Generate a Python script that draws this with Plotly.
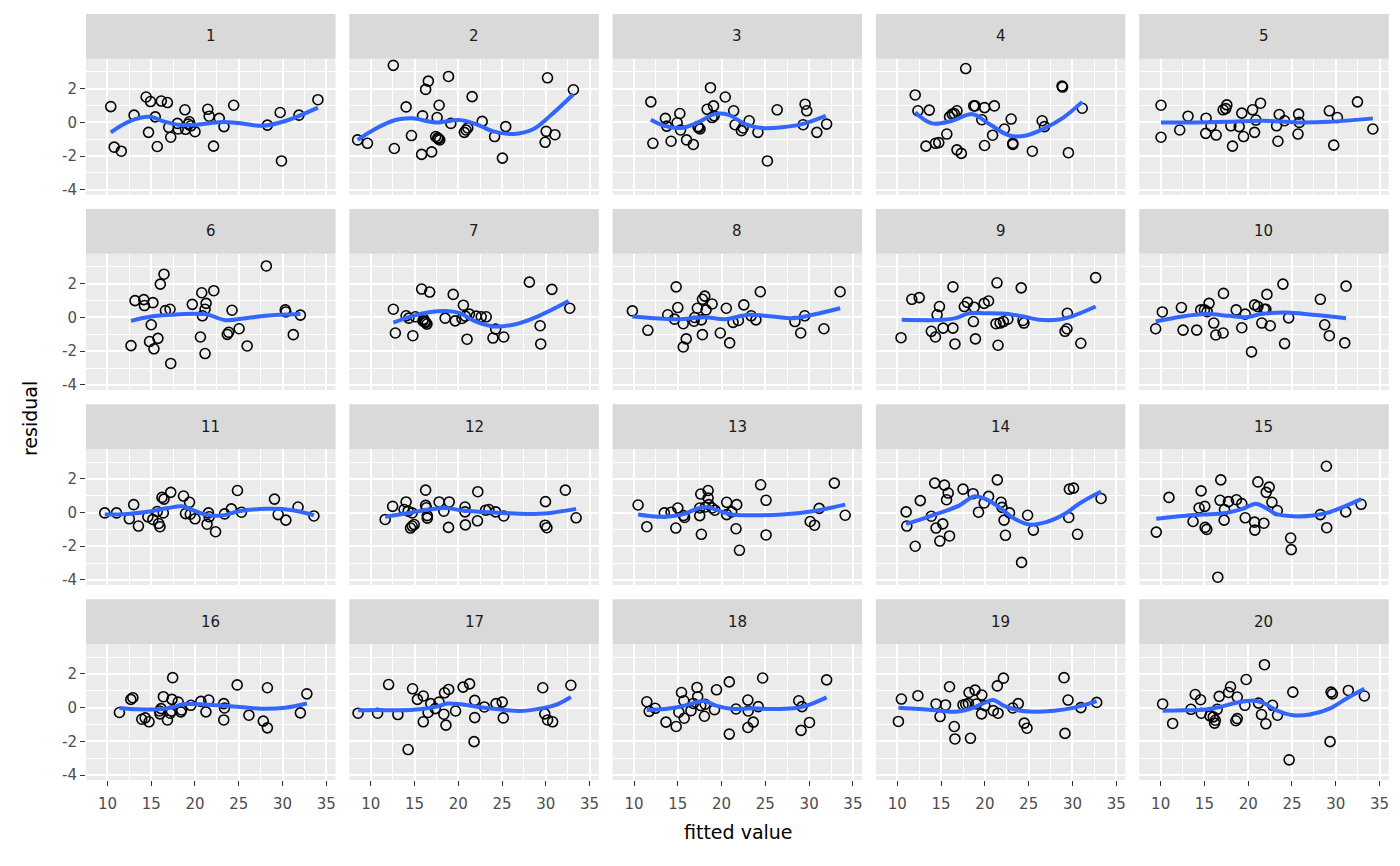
import plotly.graph_objects as go

# residuals against fitted values, 20 panels
fit1 = [10.38, 10.77, 11.58, 13.04, 14.42, 14.92, 14.69, 15.46, 15.69, 16.15, 16.85, 17.0, 17.23, 18.0, 18.08, 18.85, 18.92, 19.35, 19.54, 20.0, 21.46, 21.62, 22.12, 22.77, 23.31, 24.42, 28.27, 29.73, 29.88, 31.88, 34.04, 19.23]
res1 = [0.94, -1.47, -1.71, 0.43, 1.51, 1.24, -0.59, 0.33, -1.43, 1.27, 1.18, -0.29, -0.88, -0.06, -0.39, 0.75, -0.41, 0.04, -0.2, -0.55, 0.78, 0.37, -1.41, 0.24, -0.25, 1.02, -0.16, 0.59, -2.29, 0.43, 1.35, -0.1]
sx1 = [10.38, 12.7, 14.8, 16.5, 18.1, 20.0, 23.1, 25.0, 27.7, 30.4, 34.04]
sy1 = [-0.59, 0.1, 0.33, 0.05, -0.14, -0.14, 0.02, -0.04, -0.2, 0.1, 0.88]

fit2 = [8.5, 9.62, 12.58, 12.69, 14.04, 14.65, 15.81, 15.92, 16.27, 16.58, 16.96, 17.42, 17.58, 17.73, 17.81, 17.88, 18.88, 19.15, 20.69, 20.88, 21.08, 21.58, 22.73, 24.15, 25.04, 25.42, 29.92, 30.04, 30.19, 31.04, 33.15, 17.65]
res2 = [-1.04, -1.24, 3.39, -1.55, 0.92, -0.78, -1.9, 0.39, 1.96, 2.45, -1.75, -0.84, 0.29, -0.98, 1.02, -1.04, 2.73, -0.06, -0.59, -0.45, -0.33, 1.53, 0.06, -0.84, -2.12, -0.25, -1.18, -0.53, 2.65, -0.73, 1.94, -0.92]
sx2 = [8.5, 10.5, 12.8, 14.7, 17.4, 20.1, 22.0, 24.0, 26.3, 28.6, 30.5, 33.15]
sy2 = [-1.04, -0.39, 0.14, 0.24, 0.0, 0.14, -0.1, -0.53, -0.69, -0.39, 0.39, 1.67]

fit3 = [11.92, 12.15, 13.58, 13.73, 14.23, 14.92, 15.23, 15.31, 16.0, 16.77, 17.31, 17.54, 18.35, 18.73, 19.08, 18.92, 19.15, 20.42, 21.38, 21.54, 22.27, 22.46, 23.15, 24.15, 25.23, 26.35, 29.31, 29.54, 29.73, 30.88, 32.0, 17.38]
res3 = [1.22, -1.24, 0.24, -0.22, -1.12, -0.02, 0.53, -0.45, -1.04, -1.31, -0.25, -0.39, 0.78, 2.06, 0.98, 0.29, 0.39, 1.51, 0.69, -0.14, -0.49, -0.33, 0.1, -0.59, -2.29, 0.75, -0.14, 1.08, 0.69, -0.59, -0.1, -0.33]
sx3 = [11.92, 13.46, 15.38, 17.3, 19.2, 20.8, 22.7, 24.6, 26.9, 29.2, 31.9]
sy3 = [0.16, -0.2, -0.33, 0.0, 0.49, 0.45, -0.1, -0.33, -0.29, -0.1, 0.39]

fit4 = [12.04, 12.35, 13.65, 13.27, 14.35, 14.73, 15.65, 15.96, 16.27, 16.5, 16.81, 16.81, 17.31, 17.81, 18.73, 18.88, 19.65, 19.96, 19.96, 20.88, 21.08, 22.23, 23.0, 23.19, 23.19, 25.42, 26.54, 26.81, 28.81, 28.88, 29.54, 31.12]
res4 = [1.63, 0.69, 0.73, -1.41, -1.24, -1.2, -0.69, 0.33, 0.49, 0.53, 0.69, -1.63, -1.84, 3.2, 0.98, 0.98, 0.16, 0.88, -1.37, -0.76, 0.98, -0.39, 0.2, -1.24, -1.31, -1.71, 0.1, -0.25, 2.16, 2.1, -1.8, 0.84]
sx4 = [12.04, 13.96, 16.27, 18.6, 20.5, 22.8, 24.7, 26.65, 28.96, 31.12]
sy4 = [0.59, -0.06, 0.1, 0.49, -0.1, -0.78, -0.78, -0.39, 0.29, 1.22]

fit5 = [10.04, 10.04, 12.18, 13.13, 15.19, 15.15, 15.76, 16.34, 17.14, 17.44, 17.56, 18.02, 18.21, 18.97, 19.27, 19.47, 20.5, 20.88, 20.73, 21.41, 23.24, 23.4, 23.55, 24.16, 25.69, 25.76, 25.84, 29.27, 29.77, 30.19, 32.48, 34.24]
res5 = [1.02, -0.88, -0.45, 0.37, 0.25, -0.65, -0.2, -0.75, 0.75, 0.82, 1.04, -0.2, -1.41, -0.25, 0.55, -0.84, 0.75, 0.14, -0.59, 1.14, -0.2, -1.12, 0.47, 0.1, -0.69, 0.49, 0.0, 0.69, -1.35, 0.29, 1.22, -0.39]
sx5 = [10.04, 14.0, 17.8, 21.6, 25.5, 29.3, 34.24]
sy5 = [0.0, 0.0, 0.04, 0.1, 0.0, 0.04, 0.24]

fit6 = [12.69, 13.15, 14.15, 14.23, 15.0, 15.19, 14.81, 15.31, 15.77, 16.04, 16.46, 16.62, 17.15, 17.23, 19.69, 20.77, 20.85, 21.15, 21.27, 20.62, 21.15, 22.15, 23.69, 23.85, 24.23, 25.04, 25.96, 28.15, 30.31, 30.38, 31.23, 32.04]
res6 = [-1.67, 1.0, 1.06, 0.71, -0.43, 0.88, -1.43, -1.86, -1.24, 1.98, 2.57, 0.41, 0.49, -2.73, 0.78, 1.47, 0.1, 0.49, 0.84, -1.16, -2.14, 1.59, -1.0, -0.88, 0.43, -0.67, -1.69, 3.06, 0.45, 0.33, -1.02, 0.14]
sx6 = [12.69, 15.0, 17.3, 20.0, 21.5, 23.5, 25.8, 28.1, 32.04]
sy6 = [-0.2, 0.06, 0.16, 0.22, 0.16, -0.16, -0.04, 0.1, 0.2]

fit7 = [12.58, 12.81, 14.04, 14.35, 14.81, 15.81, 16.73, 15.96, 16.27, 16.42, 16.19, 18.5, 19.42, 19.65, 20.42, 20.58, 21.0, 21.27, 22.04, 22.62, 23.19, 23.96, 24.27, 25.19, 28.12, 29.35, 29.42, 30.69, 32.73, 15.1, 16.04, 20.8]
res7 = [0.49, -0.92, 0.1, -0.04, -1.08, 1.69, 1.51, -0.2, -0.31, -0.39, -0.25, -0.04, 1.37, -0.2, -0.06, 0.73, -1.29, 0.2, 0.08, 0.04, 0.04, -1.22, -0.69, -1.16, 2.1, -0.49, -1.57, 1.67, 0.55, 0.04, -0.1, 0.08]
sx7 = [12.58, 14.73, 16.65, 18.58, 20.1, 22.04, 24.0, 26.27, 28.96, 32.6]
sy7 = [-0.31, 0.08, 0.31, 0.39, 0.27, -0.25, -0.53, -0.43, 0.04, 0.98]

fit8 = [9.81, 11.58, 13.85, 14.62, 14.81, 15.0, 15.62, 15.96, 15.62, 16.85, 17.23, 17.69, 17.81, 18.08, 18.23, 17.81, 18.92, 19.85, 20.54, 20.92, 21.31, 21.92, 22.54, 23.38, 23.92, 24.42, 28.38, 29.04, 29.5, 31.69, 33.54, 16.92]
res8 = [0.39, -0.76, 0.16, -0.1, 1.82, 0.59, -0.37, -1.27, -1.75, -0.22, 0.55, -0.14, 1.08, 1.27, 0.45, -1.02, 0.8, -0.92, 0.55, -1.51, -0.29, -0.18, 0.75, 0.1, -0.14, 1.53, -0.24, -0.92, 0.1, -0.67, 1.53, 0.0]
sx8 = [9.81, 12.3, 15.0, 18.1, 20.4, 23.1, 25.8, 28.1, 30.4, 33.54]
sy8 = [0.06, -0.04, -0.1, 0.02, -0.1, 0.16, 0.06, -0.04, 0.16, 0.55]

fit9 = [10.42, 11.65, 12.5, 13.88, 14.35, 14.54, 14.81, 15.23, 16.35, 16.35, 16.58, 17.65, 18.0, 18.77, 18.69, 18.92, 19.92, 20.42, 21.38, 21.27, 21.73, 22.12, 21.5, 22.62, 24.15, 24.35, 24.46, 29.42, 29.15, 29.38, 30.96, 32.65]
res9 = [-1.2, 1.08, 1.18, -0.82, -1.16, 0.16, 0.65, -0.63, 1.82, -0.63, -1.57, 0.65, 0.9, 0.61, -0.24, -1.27, 0.84, 0.98, 2.06, -0.37, -0.33, -0.24, -1.65, -0.1, 1.76, -0.18, -0.33, 0.25, -0.82, -0.67, -1.53, 2.37]
sx9 = [10.5, 15.1, 16.65, 18.2, 20.1, 22.4, 24.35, 26.3, 28.2, 30.1, 32.65]
sy9 = [-0.14, -0.14, -0.04, 0.25, 0.25, 0.22, 0.06, -0.14, -0.14, 0.1, 0.65]

fit10 = [9.43, 10.19, 12.37, 12.56, 14.12, 14.58, 15.0, 15.31, 15.53, 16.07, 16.3, 17.14, 17.18, 18.63, 19.27, 19.66, 20.38, 20.73, 21.11, 21.56, 22.02, 22.14, 22.52, 23.97, 24.16, 24.62, 28.24, 28.74, 29.27, 31.03, 31.18, 21.83]
res10 = [-0.67, 0.33, 0.59, -0.75, -0.75, 0.45, 0.45, 0.35, 0.84, -0.33, -1.04, -0.92, 1.43, 0.45, -0.61, 0.2, -2.04, 0.75, 0.65, -0.33, 0.49, 1.37, -0.49, 1.98, -1.55, -0.02, 1.08, -0.43, -1.08, -1.51, 1.86, 0.49]
sx10 = [9.43, 12.48, 15.15, 17.82, 19.73, 21.64, 24.31, 27.37, 31.18]
sy10 = [-0.24, 0.06, 0.2, 0.1, 0.02, 0.22, 0.29, 0.16, -0.04]

fit11 = [9.69, 11.04, 12.5, 13.0, 13.54, 14.62, 15.19, 15.69, 15.85, 16.0, 16.23, 16.46, 16.38, 17.23, 18.69, 19.38, 18.92, 19.46, 20.0, 21.38, 21.54, 21.62, 22.35, 23.38, 24.15, 24.85, 25.31, 29.08, 29.5, 30.38, 31.77, 33.58]
res11 = [-0.02, -0.02, -0.37, 0.47, -0.8, -0.25, -0.41, 0.06, -0.65, -0.84, 0.9, 0.8, -0.02, 1.2, 0.98, 0.61, -0.06, -0.1, -0.37, -0.69, -0.02, -0.25, -1.14, -0.08, 0.22, 1.31, 0.02, 0.8, -0.12, -0.45, 0.33, -0.2]
sx11 = [9.69, 12.3, 15.0, 16.9, 18.5, 19.6, 21.15, 23.1, 25.0, 28.1, 31.15, 33.58]
sy11 = [-0.12, -0.08, 0.08, 0.27, 0.37, 0.18, -0.12, -0.18, 0.08, 0.22, 0.14, -0.16]

fit12 = [11.65, 12.5, 14.04, 13.81, 14.27, 14.73, 14.54, 14.73, 14.96, 16.27, 16.27, 16.35, 16.46, 16.46, 17.81, 18.35, 18.88, 18.96, 20.77, 20.77, 20.81, 22.23, 22.19, 23.12, 23.5, 24.27, 25.19, 29.96, 29.92, 30.12, 32.23, 33.46]
res12 = [-0.41, 0.37, 0.63, 0.18, 0.08, -0.02, -0.92, -0.8, -0.71, 1.33, 0.43, 0.29, -0.18, -0.33, 0.63, 0.08, -0.88, 0.63, 0.33, 0.04, -0.73, 1.24, -0.49, 0.14, 0.18, 0.04, -0.2, 0.65, -0.75, -0.9, 1.33, -0.31]
sx12 = [11.65, 14.35, 16.65, 18.6, 20.5, 22.8, 25.1, 27.8, 30.5, 33.46]
sy12 = [-0.25, -0.02, 0.18, 0.27, 0.12, 0.04, -0.02, -0.08, -0.02, 0.22]

fit13 = [10.46, 11.46, 13.46, 14.23, 15.0, 14.77, 15.77, 15.65, 17.5, 17.5, 17.62, 17.69, 18.46, 18.46, 18.54, 18.92, 19.23, 20.58, 20.58, 21.15, 21.73, 21.65, 22.04, 24.46, 25.08, 25.08, 30.12, 30.62, 31.15, 32.88, 34.12, 18.15]
res13 = [0.45, -0.84, -0.02, 0.02, 0.27, -0.92, -0.29, -0.18, 0.27, -0.18, 1.1, -1.29, 1.31, 0.86, 0.47, 0.27, 0.14, 0.61, -0.12, 0.04, 0.47, -0.96, -2.24, 1.65, 0.73, -1.33, -0.53, -0.75, 0.25, 1.75, -0.16, 0.33]
sx13 = [10.46, 12.7, 14.23, 15.77, 17.3, 18.46, 19.6, 21.15, 23.85, 26.9, 30.4, 34.12]
sy13 = [-0.12, -0.25, -0.22, -0.08, 0.25, 0.31, 0.12, -0.12, -0.16, -0.12, 0.08, 0.47]

fit14 = [11.0, 11.08, 12.04, 12.62, 13.88, 14.27, 14.42, 14.85, 15.19, 15.38, 15.62, 15.81, 15.96, 17.5, 18.65, 19.27, 19.92, 20.42, 21.42, 21.85, 21.96, 22.19, 22.35, 22.81, 24.19, 24.88, 25.54, 29.58, 29.65, 30.12, 30.58, 33.27]
res14 = [0.04, -0.8, -2.0, 0.71, -0.22, 1.75, -0.92, -1.69, -0.67, 1.63, 0.76, 1.16, -1.39, 1.39, 1.12, 0.02, 0.57, 0.96, 1.94, 0.61, 0.31, -0.45, -1.35, -0.02, -2.96, -0.16, -1.04, -0.29, 1.39, 1.45, -1.29, 0.84]
sx14 = [11.0, 13.2, 15.1, 17.04, 18.77, 20.1, 21.65, 23.2, 25.1, 27.0, 29.0, 30.9, 33.27]
sy14 = [-0.67, -0.31, 0.02, 0.41, 0.96, 0.8, 0.31, -0.31, -0.71, -0.57, -0.12, 0.57, 1.25]

fit15 = [9.5, 10.95, 13.7, 14.62, 14.39, 15.04, 15.08, 15.27, 16.53, 16.87, 16.79, 17.29, 17.25, 17.75, 18.66, 19.27, 19.66, 20.73, 20.76, 21.11, 21.79, 22.06, 22.4, 22.71, 23.32, 24.85, 24.92, 28.24, 28.93, 28.97, 31.15, 32.9]
res15 = [-1.16, 0.9, -0.53, 1.29, 0.27, 0.37, -0.88, -1.0, -3.84, 1.94, 0.73, 0.18, -0.45, 0.65, 0.76, 0.53, -0.31, -0.57, -1.04, 1.82, -0.63, 1.2, 1.51, 0.61, 0.12, -1.51, -2.2, -0.12, 2.75, -0.9, 0.04, 0.49]
sx15 = [9.5, 12.1, 14.77, 17.44, 19.35, 20.88, 22.02, 23.17, 25.08, 27.37, 29.27, 32.9]
sy15 = [-0.37, -0.22, -0.12, -0.02, 0.22, 0.53, 0.27, -0.08, -0.22, -0.18, 0.02, 0.8]

fit16 = [11.37, 12.67, 12.9, 13.92, 14.31, 14.75, 16.0, 16.12, 16.39, 16.86, 17.18, 17.37, 17.45, 18.08, 18.39, 18.47, 19.53, 20.67, 21.25, 21.57, 23.29, 23.37, 23.29, 24.82, 26.16, 27.8, 28.27, 28.27, 32.04, 32.78, 17.3, 15.96]
res16 = [-0.29, 0.49, 0.59, -0.69, -0.61, -0.84, -0.37, -0.06, 0.65, -0.73, -0.33, 0.49, 1.78, 0.33, -0.25, -0.14, 0.14, 0.37, -0.25, 0.45, 0.24, -0.02, -0.73, 1.35, -0.45, -0.8, 1.18, -1.2, -0.31, 0.82, -0.2, -0.2]
sx16 = [11.37, 13.45, 15.8, 17.37, 18.55, 20.5, 22.5, 24.8, 27.57, 30.3, 32.78]
sy16 = [-0.02, -0.1, -0.1, 0.0, 0.2, 0.2, 0.14, 0.06, -0.06, 0.0, 0.25]

fit17 = [8.55, 10.78, 12.04, 13.1, 14.27, 14.78, 15.33, 16.0, 16.0, 16.55, 16.86, 17.37, 17.8, 18.35, 18.43, 18.59, 18.9, 19.69, 20.55, 21.29, 21.88, 21.88, 21.8, 22.98, 24.31, 25.02, 25.14, 29.65, 29.88, 30.2, 30.78, 32.86]
res17 = [-0.33, -0.33, 1.37, -0.41, -2.49, 1.12, 0.49, 0.69, -0.84, -0.29, 0.24, -0.06, 0.33, -0.39, 0.88, -1.04, 1.08, -0.2, 1.22, 1.41, 0.43, -0.59, -2.02, 0.04, 0.24, 0.33, -0.61, 1.18, -0.37, -0.73, -0.84, 1.33]
sx17 = [8.55, 10.9, 13.25, 15.6, 17.57, 18.75, 20.3, 22.3, 24.6, 27.0, 29.33, 31.3, 32.86]
sy17 = [-0.16, -0.14, -0.16, -0.1, 0.06, 0.24, 0.2, 0.04, -0.1, -0.2, -0.06, 0.2, 0.63]

fit18 = [11.46, 11.73, 12.42, 13.65, 14.81, 15.12, 15.42, 15.73, 15.69, 16.5, 16.77, 17.19, 17.27, 17.62, 18.04, 18.12, 19.19, 19.42, 20.88, 20.88, 21.65, 23.0, 23.04, 23.0, 23.62, 24.19, 24.69, 28.81, 29.19, 29.08, 30.04, 32.0]
res18 = [0.35, -0.22, -0.04, -0.86, -1.12, -0.27, 0.9, -0.63, 0.41, -0.18, 0.25, 1.2, 0.65, 0.12, -0.51, 0.2, -0.12, 1.06, 1.53, -1.57, -0.08, 0.45, -0.2, -1.18, -0.86, 0.06, 1.76, 0.41, 0.06, -1.35, -0.88, 1.65]
sx18 = [11.46, 13.58, 15.5, 17.04, 18.0, 19.35, 21.27, 23.58, 25.88, 28.2, 29.73, 32.0]
sy18 = [-0.14, -0.08, 0.08, 0.31, 0.39, 0.12, -0.08, -0.04, -0.08, -0.04, 0.12, 0.61]

fit19 = [10.12, 10.46, 12.35, 14.42, 14.88, 15.5, 15.96, 16.5, 16.58, 17.5, 17.81, 18.12, 18.19, 18.35, 18.88, 19.04, 19.65, 19.62, 20.96, 21.42, 21.5, 22.12, 23.19, 23.81, 24.5, 24.81, 29.04, 29.15, 29.5, 30.96, 32.77, 20.0]
res19 = [-0.82, 0.51, 0.71, 0.22, -0.53, 0.16, 1.24, -1.12, -1.86, 0.16, 0.2, 0.25, 0.9, -1.82, 1.04, 0.22, 0.75, -0.37, -0.18, 1.29, -0.33, 1.75, -0.02, 0.24, -0.92, -1.22, 1.78, -1.53, 0.45, 0.0, 0.31, 0.12]
sx19 = [10.12, 12.5, 14.8, 16.73, 18.27, 19.8, 20.96, 22.12, 23.65, 25.58, 27.88, 30.2, 32.77]
sy19 = [0.0, -0.08, -0.18, -0.24, -0.08, 0.25, 0.45, 0.12, -0.14, -0.24, -0.18, 0.0, 0.39]

fit20 = [10.23, 11.37, 13.46, 13.95, 14.56, 14.64, 15.63, 16.01, 16.16, 16.24, 16.46, 16.69, 17.76, 17.98, 18.59, 18.75, 18.75, 19.62, 19.77, 21.18, 21.52, 21.86, 22.02, 22.78, 23.35, 24.68, 25.1, 29.35, 29.47, 29.62, 31.44, 33.27]
res20 = [0.22, -0.94, -0.1, 0.78, 0.47, -0.33, -0.49, -0.55, -0.92, -0.75, -0.1, 0.67, 0.9, 1.24, -0.78, -0.65, 0.63, 0.14, 1.67, 0.27, -0.41, 2.55, -0.96, 0.14, -0.45, -3.1, 0.92, -2.02, 0.92, 0.82, 1.02, 0.69]
sx20 = [10.23, 12.6, 14.87, 16.77, 18.67, 20.57, 21.71, 23.23, 25.13, 27.03, 29.3, 31.2, 33.27]
sy20 = [-0.18, -0.16, -0.12, 0.04, 0.29, 0.43, 0.29, -0.16, -0.45, -0.41, -0.06, 0.53, 1.12]

panel_labels = [str(i) for i in range(1, 21)]
x_ticks = [10, 15, 20, 25, 30, 35]
x_tick_labels = ["10", "15", "20", "25", "30", "35"]
y_ticks = [-4, -2, 0, 2]
y_tick_labels = ["-4", "-2", "0", "2"]

fitted = [fit1, fit2, fit3, fit4, fit5, fit6, fit7, fit8, fit9, fit10,
          fit11, fit12, fit13, fit14, fit15, fit16, fit17, fit18, fit19, fit20]
resid = [res1, res2, res3, res4, res5, res6, res7, res8, res9, res10,
         res11, res12, res13, res14, res15, res16, res17, res18, res19, res20]
smooth_x = [sx1, sx2, sx3, sx4, sx5, sx6, sx7, sx8, sx9, sx10,
            sx11, sx12, sx13, sx14, sx15, sx16, sx17, sx18, sx19, sx20]
smooth_y = [sy1, sy2, sy3, sy4, sy5, sy6, sy7, sy8, sy9, sy10,
            sy11, sy12, sy13, sy14, sy15, sy16, sy17, sy18, sy19, sy20]

# the page body adds an 8px margin, so the figure is laid out in page pixels minus 8
OFF = 8
W, H = 1384, 850
FONT = "DejaVu Sans"
col_left = 86 - OFF
col_step = 263.3
panel_w = 249.5
row_top = 59 - OFF
row_step = 196
panel_h = 136.7
strip_h = 45

fig = go.Figure()
layout = dict(
    width=W, height=H,
    margin=dict(l=0, r=0, t=0, b=0),
    paper_bgcolor="white", plot_bgcolor="#EBEBEB",
    showlegend=False,
    font=dict(family=FONT, color="#4D4D4D", size=14),
)
shapes = []
annotations = []

for i in range(20):
    r, c = divmod(i, 5)
    k = i + 1
    xa = "x" if k == 1 else "x%d" % k
    ya = "y" if k == 1 else "y%d" % k
    x0 = col_left + col_step * c
    x1 = x0 + panel_w
    y0 = row_top + row_step * r
    y1 = y0 + panel_h

    fig.add_trace(go.Scatter(
        x=fitted[i], y=resid[i], mode="markers", xaxis=xa, yaxis=ya,
        marker=dict(symbol="circle-open", size=10, color="black",
                    line=dict(color="black", width=1.6)),
        hoverinfo="skip"))
    fig.add_trace(go.Scatter(
        x=smooth_x[i], y=smooth_y[i], mode="lines", xaxis=xa, yaxis=ya,
        line=dict(color="#3366FF", width=4, shape="spline", smoothing=1.0),
        hoverinfo="skip"))

    bottom = r == 3
    left = c == 0
    layout["xaxis" if k == 1 else "xaxis%d" % k] = dict(
        domain=[x0 / W, x1 / W], anchor=ya, range=[7.55, 36.05],
        tickvals=x_ticks, ticktext=x_tick_labels,
        showticklabels=bottom, ticks="outside" if bottom else "",
        ticklen=5, tickwidth=1.2, tickcolor="#333333", ticklabelstandoff=5,
        tickfont=dict(family=FONT, size=15, color="#4D4D4D"),
        showgrid=True, gridcolor="white", gridwidth=1.6,
        minor=dict(tick0=7.5, dtick=2.5, showgrid=True, gridcolor="white", gridwidth=0.8),
        zeroline=False, showline=False, fixedrange=True)
    layout["yaxis" if k == 1 else "yaxis%d" % k] = dict(
        domain=[1 - y1 / H, 1 - y0 / H], anchor=xa, range=[-4.3, 3.78],
        tickvals=y_ticks, ticktext=y_tick_labels,
        showticklabels=left, ticks="outside" if left else "",
        ticklen=5, tickwidth=1.2, tickcolor="#333333",
        tickfont=dict(family=FONT, size=15, color="#4D4D4D"),
        showgrid=True, gridcolor="white", gridwidth=1.6,
        minor=dict(tick0=-3, dtick=2, showgrid=True, gridcolor="white", gridwidth=0.8),
        zeroline=False, showline=False, fixedrange=True)

    # facet strip
    shapes.append(dict(type="rect", xref="paper", yref="paper",
                       x0=x0 / W, x1=x1 / W, y0=1 - y0 / H, y1=1 - (y0 - strip_h) / H,
                       fillcolor="#D9D9D9", line=dict(width=0), layer="below"))
    annotations.append(dict(text=panel_labels[i], xref="paper", yref="paper",
                            x=(x0 + x1) / 2 / W, y=1 - (y0 - strip_h / 2) / H,
                            showarrow=False, xanchor="center", yanchor="middle",
                            font=dict(family=FONT, size=15, color="#1A1A1A")))

annotations.append(dict(text="fitted value", xref="paper", yref="paper",
                        x=(739 - OFF) / W, y=1 - (836 - OFF) / H, showarrow=False,
                        xanchor="center", yanchor="middle",
                        font=dict(family=FONT, size=19, color="black")))
annotations.append(dict(text="residual", xref="paper", yref="paper",
                        x=(30 - OFF) / W, y=1 - (421 - OFF) / H, showarrow=False, textangle=-90,
                        xanchor="center", yanchor="middle",
                        font=dict(family=FONT, size=19, color="black")))

layout["shapes"] = shapes
layout["annotations"] = annotations
fig.update_layout(**layout)

fig.write_html("out.html")
